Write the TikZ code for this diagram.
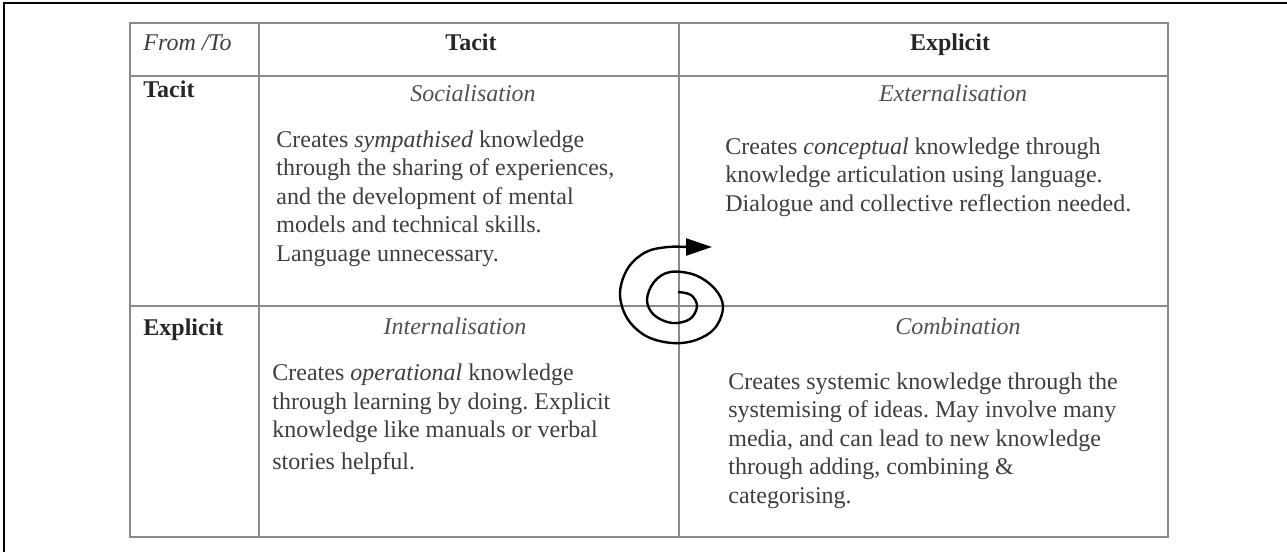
\documentclass[tikz,border=0pt]{standalone}
\usepackage{fontspec}
\setmainfont{Liberation Serif}
\usepackage{xcolor}
\usetikzlibrary{arrows.meta, positioning}
\frenchspacing

\definecolor{rulegray}{HTML}{8A8A8A}
\definecolor{inkgray}{HTML}{3E3E3E}

\begin{document}
\begin{tikzpicture}[
  x=0.5pt, y=-0.5pt,
  grid/.style={draw=rulegray, line width=1pt},
  frame/.style={draw=black, line width=1pt},
  head/.style={anchor=base, inner sep=0pt, font=\fontsize{12}{14.25}\selectfont\bfseries, text=black!85},
  mode/.style={anchor=base, inner sep=0pt, font=\fontsize{12}{14.25}\selectfont\itshape, text=inkgray!90},
  % multi-line text: base anchor sits on the last line
  body/.style={anchor=base west, align=left, inner sep=0pt, font=\fontsize{12}{14.25}\selectfont, text=inkgray},
  spiral/.style={draw=black, line width=1.2pt, -{Triangle[length=13pt, width=8.5pt]}}
]
\useasboundingbox (0,0) rectangle (1287,552);

% page frame
\draw[frame] (4,552) -- (4,3) -- (1287,3);

% table
\draw[grid] (130,23) rectangle (1168,537);
\draw[grid] (130,76) -- (1168,76);
\draw[grid] (130,306) -- (1168,306);
\draw[grid] (259,23) -- (259,537);
\draw[grid] (679,23) -- (679,537);

% header row and row labels
\node[anchor=base west, inner sep=0pt, font=\fontsize{12}{14.25}\selectfont\itshape, text=inkgray] (from) at (143,50) {From /To};
\node[head] (coltacit) at (471,50) {Tacit};
\node[head] (colexpl) at (950,50) {Explicit};
\node[head, anchor=base west] (rowtacit) at (143,97) {Tacit};
\node[head, anchor=base west] (rowexpl) at (143,335) {Explicit};

% the four modes
\node[mode] (soc) at (473,101) {Socialisation};
\node[body] (soctxt) at (276,261) {Creates \textit{sympathised} knowledge\\
  through the sharing of experiences,\\
  and the development of mental\\
  models and technical skills.\\
  Language unnecessary.};

\node[mode] (ext) at (953,101) {Externalisation};
\node[body] (exttxt) at (725,211) {Creates \textit{conceptual} knowledge through\\
  knowledge articulation using language.\\
  Dialogue and collective reflection needed.};

\node[mode] (int) at (455,334) {Internalisation};
\node[body] (inttxt) at (272,469) {Creates \textit{operational} knowledge\\
  through learning by doing. Explicit\\
  knowledge like manuals or verbal\\[1.5pt]
  stories helpful.};

\node[mode] (comb) at (958,334) {Combination};
\node[body] (combtxt) at (728,503) {Creates systemic knowledge through the\\
  systemising of ideas. May involve many\\
  media, and can lead to new knowledge\\
  through adding, combining \&\\
  categorising.};

% knowledge spiral
\draw[spiral] plot[smooth, tension=0.6] coordinates {
  (678,292) (691,295) (697,306) (690,319) (672,323) (654,315) (647,300)
  (654,282) (670,272) (695,275) (715,289) (723,307) (715,328) (696,340)
  (672,343) (646,336) (627,318) (620,293) (628,268) (646,252) (668,247)
  (690,247) (712,247)};
\end{tikzpicture}
\end{document}
